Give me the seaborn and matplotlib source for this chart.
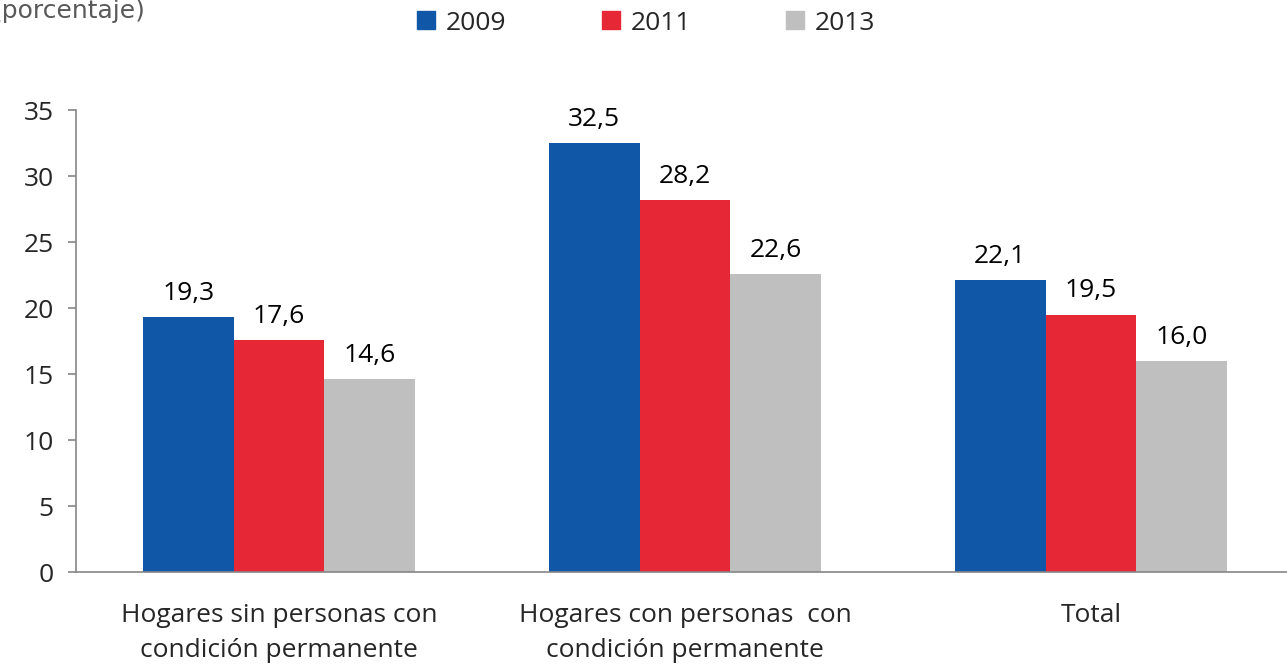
import pandas as pd
import matplotlib.pyplot as plt
import seaborn as sns
from matplotlib.lines import Line2D

# Datos
categorias = ['Hogares sin personas con\ncondición permanente',
              'Hogares con personas  con\ncondición permanente',
              'Total']
anios = ['2009', '2011', '2013']
v2009 = [19.3, 32.5, 22.1]
v2011 = [17.6, 28.2, 19.5]
v2013 = [14.6, 22.6, 16.0]
colores = ['#1057A8', '#E62836', '#BFBFBF']

df = pd.DataFrame({
    'categoria': categorias * 3,
    'anio': [a for a in anios for _ in categorias],
    'valor': v2009 + v2011 + v2013,
})

sns.set_style('white')
plt.rcParams['font.family'] = ['Open Sans', 'DejaVu Sans']
fs = 19

fig = plt.figure(figsize=(12.87, 6.65), dpi=100)
ax = fig.add_axes([76 / 1287, 1 - 572 / 665, 1218 / 1287, 462 / 665])

sns.barplot(data=df, x='categoria', y='valor', hue='anio', palette=colores,
            width=0.67, saturation=1, linewidth=0, ax=ax, legend=False)

for cont in ax.containers:
    ax.bar_label(cont, labels=[f'{v:.1f}'.replace('.', ',') for v in cont.datavalues],
                 padding=8, fontsize=fs, color='black')

ax.set_ylim(0, 35)
ax.set_xlim(-0.5, 2.5)
ax.set_yticks(range(0, 36, 5))
ax.set_xlabel('')
ax.set_ylabel('')
ax.tick_params(axis='y', labelsize=fs, length=6, color='#868686', width=1.2, direction='out', left=True, pad=10)
ax.set_xticks([0, 1, 2])
ax.set_xticklabels(categorias, fontsize=fs, linespacing=1.55)
ax.tick_params(axis='x', length=0, pad=22)
# marcas entre grupos
ax.set_xticks([-0.5, 0.5, 1.5, 2.5], minor=True)
ax.tick_params(axis='x', which='minor', length=9, color='#868686', width=1.2, direction='out')

for s in ['top', 'right']:
    ax.spines[s].set_visible(False)
for s in ['left', 'bottom']:
    ax.spines[s].set_color('#868686')
    ax.spines[s].set_linewidth(1.2)

handles = [Line2D([0], [0], marker='s', linestyle='', markersize=13, color=c) for c in colores]
fig.legend(handles, anios, loc='center', bbox_to_anchor=(644 / 1287, 1 - 23 / 665), ncol=3,
           frameon=False, fontsize=fs, handletextpad=0.25, columnspacing=3.45, handlelength=1)

fig.text(146 / 1287, 1 - 18 / 665, '(porcentaje)', ha='right', va='baseline', fontsize=18,
         color='#595959', family='DejaVu Sans')

fig.savefig('out.png', dpi=100)
